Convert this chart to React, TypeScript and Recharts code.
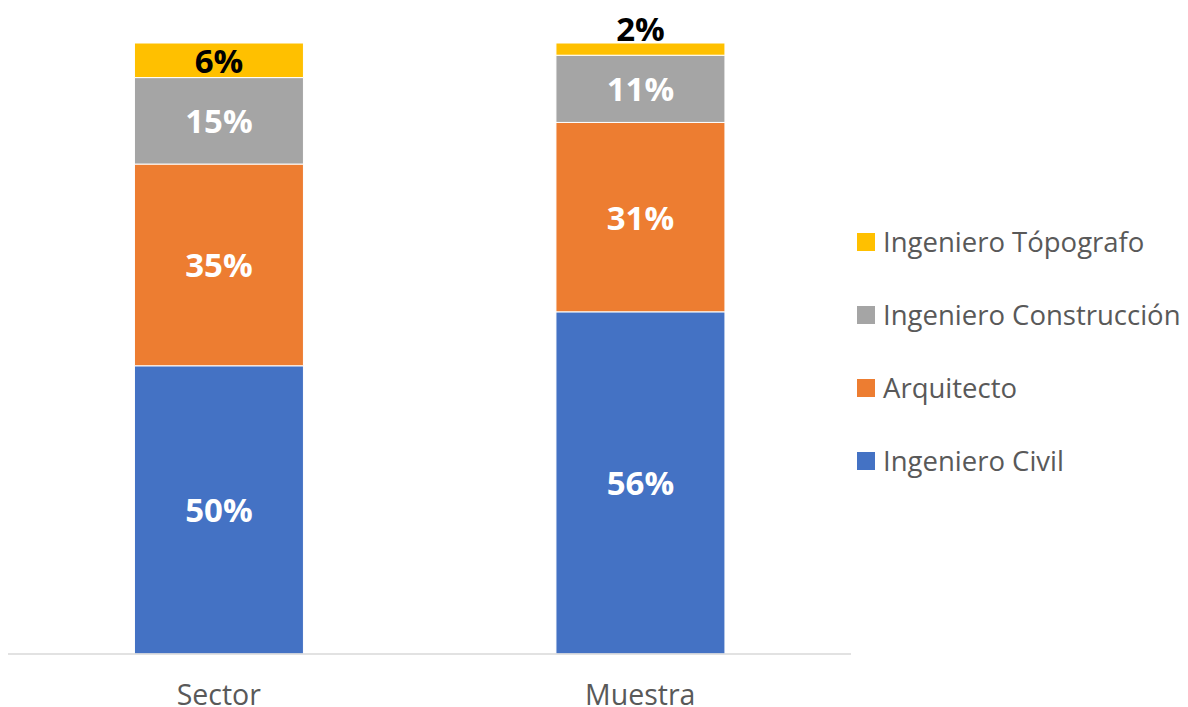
import React from 'react';
import { BarChart, Bar, XAxis, YAxis, Legend, LabelList } from 'recharts';

const categories = ['Sector', 'Muestra'];
const ingenieroCivil = [50, 56];
const arquitecto = [35, 31];
const ingenieroConstruccion = [15, 11];
const ingenieroTopografo = [6, 2];

const seriesNames = ['Ingeniero Civil', 'Arquitecto', 'Ingeniero Construcción', 'Ingeniero Tópografo'];
const seriesKeys = ['civil', 'arquitecto', 'construccion', 'topografo'];
const seriesColors = ['#4472C4', '#ED7D31', '#A5A5A5', '#FFC000'];
const labelColors = ['#FFFFFF', '#FFFFFF', '#FFFFFF', '#000000'];

const data = categories.map((c, i) => ({
  name: c,
  civil: ingenieroCivil[i],
  arquitecto: arquitecto[i],
  construccion: ingenieroConstruccion[i],
  topografo: ingenieroTopografo[i],
}));

const FONT = '"Open Sans", Lato, sans-serif';

const makeLabel = (color: string, isTop: boolean) => (props: any) => {
  const { x, y, width, height, value } = props;
  let cy = Number(y) + Number(height) / 2;
  if (isTop && Number(height) < 30) cy = Number(y) - 15;
  return (
    <text
      x={Number(x) + Number(width) / 2}
      y={cy}
      fill={color}
      textAnchor="middle"
      dominantBaseline="central"
      fontWeight="bold"
      fontSize={33}
      fontFamily={FONT}
    >
      {value}%
    </text>
  );
};

const LegendContent = () => {
  const idx = seriesNames.map((_, i) => i).reverse();
  return (
    <div style={{ fontFamily: FONT }}>
      {idx.map((i) => (
        <div key={seriesNames[i]} style={{ height: 73, display: 'flex', alignItems: 'center' }}>
          <span style={{ width: 18, height: 18, background: seriesColors[i], display: 'inline-block', marginRight: 8, flexShrink: 0 }} />
          <span style={{ fontSize: 27.5, color: '#595959', whiteSpace: 'nowrap' }}>{seriesNames[i]}</span>
        </div>
      ))}
    </div>
  );
};

export default function App() {
  return (
    <div style={{ position: 'absolute', left: 0, top: 0, width: 1188, height: 707, background: '#fff' }}>
      <BarChart
        width={1188}
        height={707}
        data={data}
        stackOffset="expand"
        barCategoryGap="30%"
        margin={{ top: 43, right: 337, bottom: 0, left: 8 }}
      >
        <XAxis
          dataKey="name"
          axisLine={{ stroke: '#D9D9D9', strokeWidth: 1.5 }}
          tickLine={false}
          height={53}
          tickMargin={25}
          tick={{ fill: '#595959', fontSize: 28.5, fontFamily: FONT }}
        />
        <YAxis hide domain={[0, 1]} />
        <Legend
          layout="vertical"
          align="center"
          verticalAlign="middle"
          wrapperStyle={{ left: 857, top: 205, width: 331, height: 292 }}
          content={<LegendContent />}
        />
        {seriesKeys.map((k, i) => (
          <Bar
            key={k}
            dataKey={k}
            name={seriesNames[i]}
            stackId="a"
            fill={seriesColors[i]}
            stroke="#FFFFFF"
            strokeWidth={1}
            isAnimationActive={false}
          >
            <LabelList dataKey={k} content={makeLabel(labelColors[i], i === seriesKeys.length - 1)} />
          </Bar>
        ))}
      </BarChart>
    </div>
  );
}
